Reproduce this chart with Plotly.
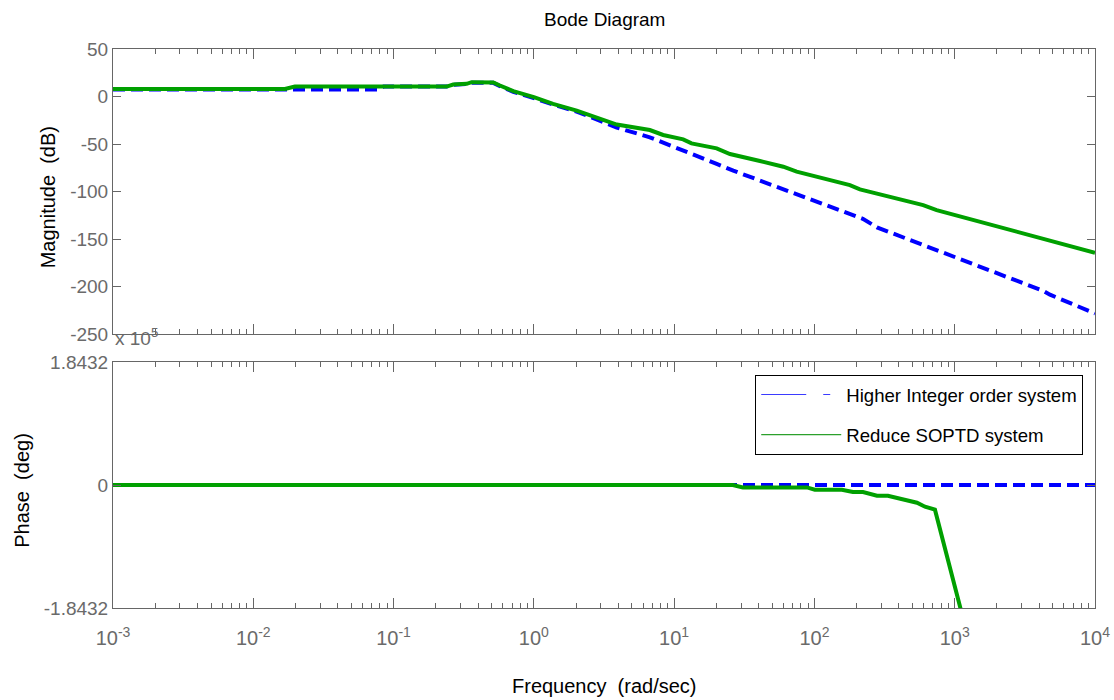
import plotly.graph_objects as go

# ---------------- data ----------------
# Magnitude (dB)
freq_mag_hi = [0.001, 0.079, 0.085, 0.239, 0.266, 0.332, 0.360, 0.514, 0.573, 0.713, 1.0, 1.37, 2.02,
               2.96, 3.9, 6.71, 13.7, 20.1, 26.4, 92.9, 223, 279, 1596, 4276, 4775, 10000]
mag_hi = [7.3, 7.3, 10.5, 10.5, 12.3, 13.2, 14.6, 14.4, 11.0, 5.0, -1.6, -8.5, -15.8,
          -25.3, -32.7, -42.9, -60.4, -70.9, -78.0, -107.8, -128.9, -137.7, -179.9, -204.5, -208.5, -228.3]

freq_mag_red = [0.001, 0.0168, 0.0198, 0.239, 0.266, 0.332, 0.360, 0.514, 0.573, 0.713, 1.0, 1.37, 2.02,
                2.51, 2.96, 3.9, 6.71, 8.35, 11.6, 13.3, 20.1, 25.0, 40.9, 60.0, 74.7, 179, 211, 249,
                596, 743, 10000]
mag_red = [8.0, 8.0, 10.5, 10.5, 12.6, 13.4, 15.1, 14.8, 11.6, 5.6, -0.7, -7.7, -14.8,
           -20.0, -23.5, -29.5, -35.3, -40.5, -45.1, -49.3, -54.6, -60.5, -67.9, -73.9, -79.1,
           -93.2, -97.7, -100.2, -114.2, -119.5, -164.4]

# Phase (x 10^5 deg)
freq_ph_hi = [0.001, 10000]
ph_hi = [0.0, 0.0]

freq_ph_red = [0.001, 26.2, 30.9, 88.4, 100.7, 157, 188, 222, 279, 334, 538, 614, 723, 1125]
ph_red = [0.0, 0.0, -0.036, -0.036, -0.070, -0.070, -0.105, -0.105, -0.160, -0.160, -0.265, -0.325, -0.37, -1.93]

series_names = ["Higher Integer order system", "Reduce SOPTD system"]
x_tick_vals = [1e-3, 1e-2, 1e-1, 1e0, 1e1, 1e2, 1e3, 1e4]
x_tick_text = ["10<sup>-3</sup>", "10<sup>-2</sup>", "10<sup>-1</sup>", "10<sup>0</sup>",
               "10<sup>1</sup>", "10<sup>2</sup>", "10<sup>3</sup>", "10<sup>4</sup>"]
mag_ticks = [-250, -200, -150, -100, -50, 0, 50]
mag_tick_text = ["-250", "-200", "-150", "-100", "-50", "0", "50"]
ph_tick_vals = [-1.8432, 0, 1.8432]
ph_tick_text = ["-1.8432", "0", "1.8432"]

# ---------------- styles ----------------
BLUE = "#0000ff"
GREEN = "#00a000"
GREY = "#666666"
LABELGREY = "#6a6a6a"
FONT = "Liberation Sans, Arial, sans-serif"
TICKFONT = dict(family=FONT, size=19, color=LABELGREY)

minor_vals = [m * 10 ** e for e in range(-3, 4) for m in range(2, 10)]

fig = go.Figure()

# plot traces (no legend)
fig.add_trace(go.Scatter(x=freq_mag_hi, y=mag_hi, mode="lines", showlegend=False,
                         line=dict(color=BLUE, width=4, dash="12px,6px"), xaxis="x", yaxis="y"))
fig.add_trace(go.Scatter(x=freq_mag_red, y=mag_red, mode="lines", showlegend=False,
                         line=dict(color=GREEN, width=4), xaxis="x", yaxis="y"))
fig.add_trace(go.Scatter(x=freq_ph_hi, y=ph_hi, mode="lines", showlegend=False,
                         line=dict(color=BLUE, width=4, dash="12px,6px"), xaxis="x2", yaxis="y2"))
fig.add_trace(go.Scatter(x=freq_ph_red, y=ph_red, mode="lines", showlegend=False,
                         line=dict(color=GREEN, width=4), xaxis="x2", yaxis="y2"))

# legend entries (thin lines, like the reference)
fig.add_trace(go.Scatter(x=[None], y=[None], mode="lines", name=series_names[0], legendgroup="a",
                         line=dict(color="#3b3bff", width=1.2, dash="45px,17px,7px"), xaxis="x2", yaxis="y2"))
fig.add_trace(go.Scatter(x=[None], y=[None], mode="lines", name=series_names[1], legendgroup="b",
                         line=dict(color="#2ca02c", width=1.2), xaxis="x2", yaxis="y2"))

common_x = dict(type="log", range=[-3, 4], showgrid=False, zeroline=False, showline=True,
                linecolor=GREY, linewidth=1, mirror="ticks", ticks="inside", ticklen=10,
                tickcolor=GREY, tickvals=x_tick_vals, automargin=False,
                minor=dict(tickvals=minor_vals, ticks="inside", ticklen=5, tickcolor=GREY, showgrid=False))

common_y = dict(showgrid=False, zeroline=False, showline=True, linecolor=GREY, mirror="ticks",
                ticks="inside", ticklen=8, tickcolor=GREY, tickfont=TICKFONT, automargin=False)

fig.update_layout(
    width=1114, height=700,
    margin=dict(l=113, r=19, t=49, b=92),
    paper_bgcolor="white", plot_bgcolor="white",
    font=dict(family=FONT, color="black"),
    xaxis=dict(**common_x, domain=[0, 1], anchor="y", showticklabels=False),
    yaxis=dict(**common_y, domain=[0.490, 1.0], range=[-250, 50], tickvals=mag_ticks,
               ticktext=mag_tick_text, anchor="x"),
    xaxis2=dict(**common_x, domain=[0, 1], anchor="y2", ticktext=x_tick_text,
                tickfont=dict(family=FONT, size=20, color=LABELGREY), ticklabelstandoff=12),
    yaxis2=dict(**common_y, domain=[0.0, 0.440], range=[-1.8432, 1.8432], tickvals=ph_tick_vals,
                ticktext=ph_tick_text, anchor="x2"),
    legend=dict(x=0.654, y=0.417, xanchor="left", yanchor="top", bgcolor="white",
                bordercolor="black", borderwidth=1, font=dict(family=FONT, size=18.6, color="black"),
                tracegroupgap=13, itemwidth=80),
    annotations=[
        dict(text="Bode Diagram", xref="paper", yref="paper", x=0.5, y=1.0, xanchor="center",
             yanchor="bottom", yshift=17, showarrow=False, font=dict(size=19, color="black")),
        dict(text="Magnitude  (dB)", xref="paper", yref="paper", x=-0.066, y=0.735,
             xanchor="center", yanchor="middle",
             textangle=-90, showarrow=False, font=dict(size=20, color="black")),
        dict(text="Phase  (deg)", xref="paper", yref="paper", x=-0.093, y=0.211,
             xanchor="center", yanchor="middle",
             textangle=-90, showarrow=False, font=dict(size=20, color="black")),
        dict(text="Frequency  (rad/sec)", xref="paper", yref="paper", x=0.5, y=-0.1395,
             xanchor="center", yanchor="middle",
             showarrow=False, font=dict(size=20, color="black")),
        dict(text="x 10<sup>5</sup>", xref="paper", yref="paper", x=0.0, y=0.484,
             xanchor="left", yanchor="middle", showarrow=False, font=dict(size=19, color=LABELGREY)),
    ],
)

fig.write_html("out.html")
